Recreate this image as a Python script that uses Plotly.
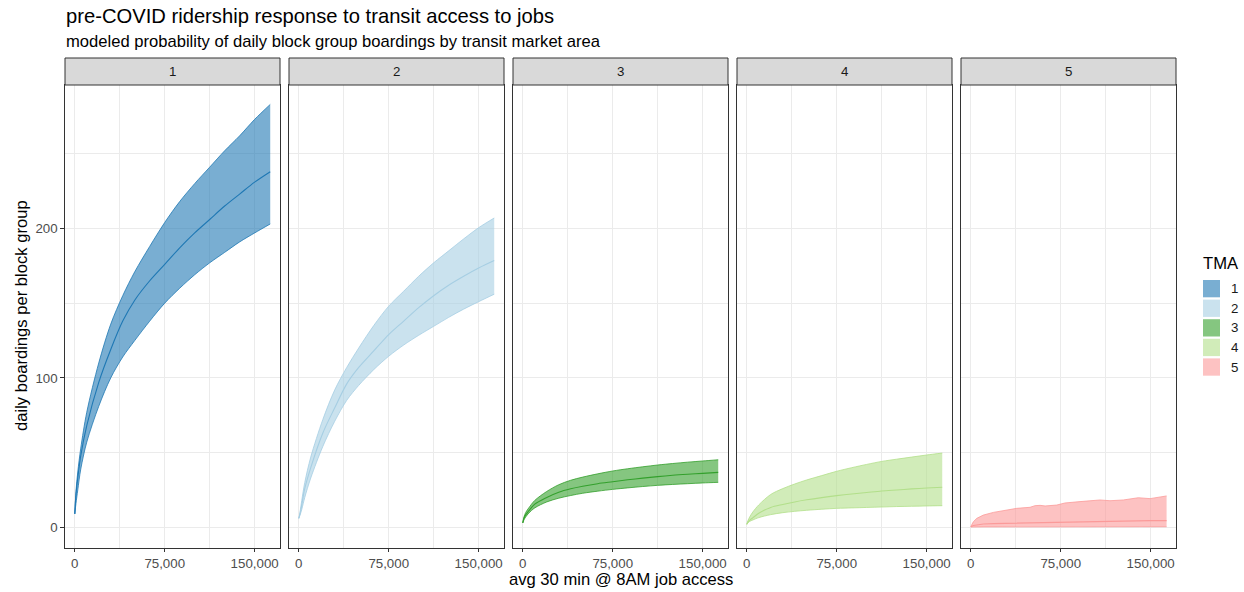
import plotly.graph_objects as go

# --- data -------------------------------------------------------------
tma_names = ["1", "2", "3", "4", "5"]
tma_colors = ["#1F78B4", "#A6CEE3", "#33A02C", "#B2DF8A", "#FB9A99"]

# job access grid (avg jobs reachable in 30 min @ 8AM) for TMAs 1-4
job_access = [0, 1000, 2500, 5000, 10000, 20000, 30000, 40000, 50000, 62500,
              75000, 87500, 100000, 112500, 125000, 137500, 150000, 163000]

tma1_mean = [9, 22, 33, 48, 68, 97, 119, 138, 152, 165, 176, 187, 197, 206, 215, 223, 231, 238]
tma1_upper = [9, 24, 37, 53, 77, 110, 136, 155, 171, 188, 204, 218, 230, 241, 252, 262, 273, 283]
tma1_lower = [9, 16, 25, 39, 57, 81, 100, 114, 125, 138, 150, 160, 169, 177, 184, 191, 197, 203]

tma2_mean = [6, 9, 15, 26, 40, 63, 80, 96, 107, 118, 129, 138, 147, 155, 162, 168, 173.5, 178.5]
tma2_upper = [6, 10, 18, 30, 47, 72, 92, 107, 120, 135, 148, 158, 168, 177, 185, 193, 200.5, 207]
tma2_lower = [6, 8, 12, 20, 33, 54, 71, 85, 95, 105.5, 114.5, 122, 128.5, 134.5, 140.5, 146, 151, 156]

tma3_mean = [3, 6, 8.5, 11, 15.5, 20, 23.5, 25.8, 27.5, 29.2, 30.5, 31.8, 32.9, 33.9, 34.8, 35.5, 36.1, 36.8]
tma3_upper = [3, 7, 10, 13, 18, 24, 28.5, 31.5, 33.6, 35.8, 37.7, 39.2, 40.5, 41.7, 42.7, 43.6, 44.4, 45.2]
tma3_lower = [3, 5, 7, 9.5, 13, 17, 19.5, 21.3, 22.8, 24.2, 25.4, 26.4, 27.3, 28.1, 28.7, 29.2, 29.7, 30.1]

tma4_mean = [2, 3.5, 4.8, 6.3, 9.4, 13.3, 15.3, 17.0, 18.4, 19.9, 21.2, 22.3, 23.3, 24.3, 25.0, 25.7, 26.3, 26.8]
tma4_upper = [2, 4.5, 7, 10.2, 15.0, 22.0, 25.9, 29.0, 31.7, 34.6, 37.5, 39.9, 42.1, 44.1, 45.6, 47.0, 48.4, 49.7]
tma4_lower = [2, 3, 4, 4.9, 6.5, 8.5, 9.8, 10.7, 11.4, 12.1, 12.7, 13.0, 13.3, 13.6, 13.9, 14.1, 14.3, 14.5]

# TMA 5 has a bumpier upper bound, so it keeps its own grid
tma5_x = [0, 2200, 5000, 10500, 18900, 30000, 38300, 49400, 53600, 57800, 62000,
          71700, 78600, 91100, 107800, 116100, 127200, 139700, 149500, 163300]
tma5_mean = [0.4, 1.2, 1.6, 2.2, 2.5, 2.7, 2.9, 3.1, 3.2, 3.3, 3.4, 3.5, 3.7, 3.9, 4.1, 4.2, 4.3, 4.4, 4.5, 4.5]
tma5_upper = [0.5, 3.8, 6.0, 8.2, 10.0, 11.8, 12.7, 13.4, 14.5, 14.7, 14.3, 14.9, 16.3, 17.2, 18.3, 17.8, 18.3, 19.8, 19.2, 21.0]
tma5_lower = [0.2, 0.3, 0.3, 0.3, 0.3, 0.3, 0.4, 0.4, 0.4, 0.4, 0.4, 0.4, 0.4, 0.4, 0.4, 0.4, 0.4, 0.4, 0.4, 0.4]

x_ticks = [0, 75000, 150000]
x_minor = [37500, 112500]
y_ticks = [0, 100, 200]
y_minor = [50, 150, 250]

panels = [
    (job_access, tma1_mean, tma1_upper, tma1_lower, "spline"),
    (job_access, tma2_mean, tma2_upper, tma2_lower, "spline"),
    (job_access, tma3_mean, tma3_upper, tma3_lower, "spline"),
    (job_access, tma4_mean, tma4_upper, tma4_lower, "spline"),
    (tma5_x, tma5_mean, tma5_upper, tma5_lower, "linear"),
]

# --- layout geometry (pixels in a 1244 x 592 page) --------------------
W, H = 1244, 592
FONT = "Liberation Sans, Arial, sans-serif"
S_TITLE, S_SUB, S_AXT, S_TICK = 20.2, 16.6, 16.6, 13.3
panel_left0, panel_w, panel_step = 65, 215, 224
panel_top, panel_bottom = 85, 547.5
strip_top = 58


def px(x):
    return x / W


def py(y):
    return 1 - y / H


def rgba(hex_color, a):
    h = hex_color.lstrip("#")
    r, g, b = int(h[0:2], 16), int(h[2:4], 16), int(h[4:6], 16)
    return f"rgba({r},{g},{b},{a})"


fig = go.Figure()
layout = dict(
    width=W, height=H, template="none",
    margin=dict(l=0, r=0, t=0, b=0),
    paper_bgcolor="white", plot_bgcolor="white",
    showlegend=False,
    font=dict(family=FONT, color="#000000"),
)
shapes, annotations = [], []

for i, (xs, mean, upper, lower, shape) in enumerate(panels):
    n = "" if i == 0 else str(i + 1)
    xa, ya = "x" + n, "y" + n
    color = tma_colors[i]
    line_kw = dict(color=color, width=0.8, shape=shape, smoothing=0.9)

    # ribbon: lower edge, then upper edge filled down to it
    fig.add_trace(go.Scatter(
        x=xs, y=lower, mode="lines", line=line_kw,
        hoverinfo="skip", xaxis=xa, yaxis=ya, name=tma_names[i]))
    fig.add_trace(go.Scatter(
        x=xs, y=upper, mode="lines", line=line_kw, fill="tonexty",
        fillcolor=rgba(color, 0.6),
        hoverinfo="skip", xaxis=xa, yaxis=ya, name=tma_names[i]))
    # modeled mean
    fig.add_trace(go.Scatter(
        x=xs, y=mean, mode="lines", line=dict(line_kw, width=1.1),
        xaxis=xa, yaxis=ya, name=tma_names[i]))

    left = panel_left0 + i * panel_step
    right = left + panel_w
    axis_common = dict(
        showline=True, mirror=True, linecolor="#333333", linewidth=1,
        showgrid=True, gridcolor="#EBEBEB", gridwidth=1.1,
        zeroline=False, automargin=False,
        tickfont=dict(family=FONT, size=S_TICK, color="#4D4D4D"),
        ticks="outside", ticklen=3.7, tickcolor="#333333", tickwidth=1,
    )
    layout["xaxis" + n] = dict(
        axis_common, domain=[px(left), px(right)], anchor=ya,
        range=[-8150, 171150], tickvals=x_ticks, tickformat=",d",
        minor=dict(tickvals=x_minor, showgrid=True, gridcolor="#EBEBEB",
                   gridwidth=0.55, ticks=""),
    )
    yax = dict(
        axis_common, domain=[py(panel_bottom), py(panel_top)], anchor=xa,
        range=[-13.5, 296], tickvals=y_ticks,
        minor=dict(tickvals=y_minor, showgrid=True, gridcolor="#EBEBEB",
                   gridwidth=0.55, ticks=""),
    )
    if i > 0:
        yax.update(showticklabels=False, ticks="")
    layout["yaxis" + n] = yax

    # facet strip
    shapes.append(dict(
        type="rect", xref="paper", yref="paper",
        x0=px(left), x1=px(right), y0=py(panel_top), y1=py(strip_top),
        fillcolor="#D9D9D9", line=dict(color="#333333", width=1), layer="above"))
    annotations.append(dict(
        text=tma_names[i], xref="paper", yref="paper",
        x=px((left + right) / 2), y=py((strip_top + panel_top) / 2),
        xanchor="center", yanchor="middle", showarrow=False,
        font=dict(family=FONT, size=S_TICK, color="#1A1A1A")))

# titles
annotations += [
    dict(text="pre-COVID ridership response to transit access to jobs",
         xref="paper", yref="paper", x=px(64), y=py(16), xanchor="left",
         yanchor="middle", showarrow=False,
         font=dict(family=FONT, size=S_TITLE, color="#000000")),
    dict(text="modeled probability of daily block group boardings by transit market area",
         xref="paper", yref="paper", x=px(64), y=py(41), xanchor="left",
         yanchor="middle", showarrow=False,
         font=dict(family=FONT, size=S_SUB, color="#000000")),
    dict(text="avg 30 min @ 8AM job access", xref="paper", yref="paper",
         x=px(620.5), y=py(579), xanchor="center", yanchor="middle",
         showarrow=False, font=dict(family=FONT, size=S_AXT, color="#000000")),
    dict(text="daily boardings per block group", xref="paper", yref="paper",
         x=px(21), y=py(316), xanchor="center", yanchor="middle", textangle=-90,
         showarrow=False, font=dict(family=FONT, size=S_AXT, color="#000000")),
    dict(text="TMA", xref="paper", yref="paper", x=px(1201), y=py(263),
         xanchor="left", yanchor="middle", showarrow=False,
         font=dict(family=FONT, size=S_AXT, color="#000000")),
]

# legend keys
key_top, key_h, key_step = 280, 17.3, 19.6
for i, name in enumerate(tma_names):
    y0 = key_top + i * key_step
    shapes.append(dict(
        type="rect", xref="paper", yref="paper",
        x0=px(1203), x1=px(1220), y0=py(y0 + key_h), y1=py(y0),
        fillcolor=rgba(tma_colors[i], 0.6), line=dict(width=0)))
    annotations.append(dict(
        text=name, xref="paper", yref="paper", x=px(1229), y=py(y0 + key_h / 2),
        xanchor="left", yanchor="middle", showarrow=False,
        font=dict(family=FONT, size=S_TICK, color="#1A1A1A")))

layout["shapes"] = shapes
layout["annotations"] = annotations
fig.update_layout(**layout)
fig.write_html("out.html")
